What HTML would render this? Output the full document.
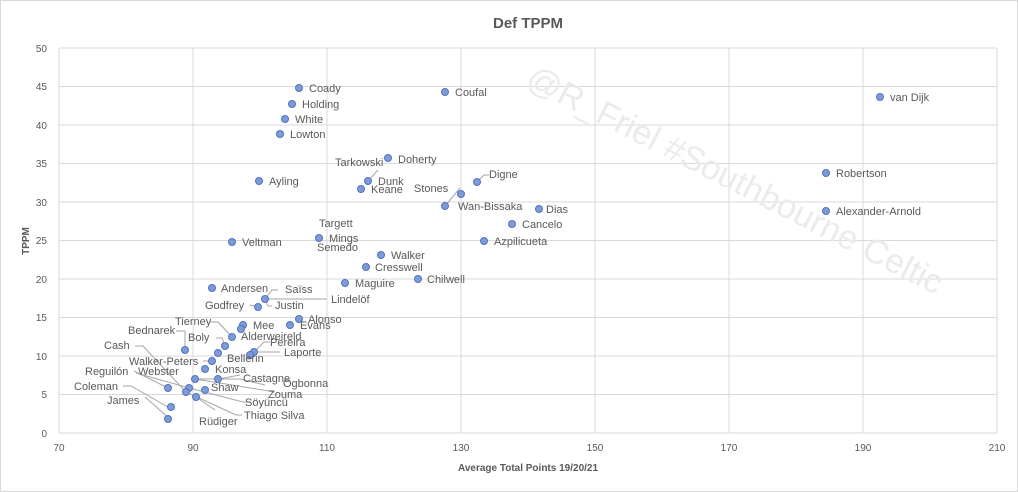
<!DOCTYPE html>
<html><head><meta charset="utf-8"><style>
html,body{margin:0;padding:0;background:#fff}
svg{display:block;font-family:"Liberation Sans",sans-serif}
.l{font-size:11px;fill:#595959}
.t{font-size:10px;fill:#595959}
.g{stroke:#d9d9d9;stroke-width:1}
.ld{stroke:#a6a6a6;stroke-width:1;fill:none}
circle{fill:#7f9bd6;stroke:#4f74c0;stroke-width:1}
</style></head><body>
<svg width="1018" height="492" viewBox="0 0 1018 492">
<rect x="0.5" y="0.5" width="1017" height="491" fill="#fff" stroke="#d9d9d9"/>
<text x="528" y="28" text-anchor="middle" style="font-size:15px;font-weight:bold;fill:#595959">Def TPPM</text>
<g class="g">
<line x1="59" y1="48" x2="997" y2="48"/><line x1="59" y1="86.5" x2="997" y2="86.5"/><line x1="59" y1="125" x2="997" y2="125"/><line x1="59" y1="163.5" x2="997" y2="163.5"/><line x1="59" y1="202" x2="997" y2="202"/><line x1="59" y1="240.5" x2="997" y2="240.5"/><line x1="59" y1="279" x2="997" y2="279"/><line x1="59" y1="317.5" x2="997" y2="317.5"/><line x1="59" y1="356" x2="997" y2="356"/><line x1="59" y1="394.5" x2="997" y2="394.5"/><line x1="59" y1="433" x2="997" y2="433"/>
<line x1="59" y1="48" x2="59" y2="433"/><line x1="193" y1="48" x2="193" y2="433"/><line x1="327" y1="48" x2="327" y2="433"/><line x1="461" y1="48" x2="461" y2="433"/><line x1="595" y1="48" x2="595" y2="433"/><line x1="729" y1="48" x2="729" y2="433"/><line x1="863" y1="48" x2="863" y2="433"/><line x1="997" y1="48" x2="997" y2="433"/>
</g>
<g class="t" text-anchor="end">
<text x="47" y="52">50</text><text x="47" y="90">45</text><text x="47" y="129">40</text><text x="47" y="167">35</text><text x="47" y="206">30</text><text x="47" y="244">25</text><text x="47" y="283">20</text><text x="47" y="321">15</text><text x="47" y="360">10</text><text x="47" y="398">5</text><text x="47" y="437">0</text>
</g>
<g class="t" text-anchor="middle">
<text x="59" y="451">70</text><text x="193" y="451">90</text><text x="327" y="451">110</text><text x="461" y="451">130</text><text x="595" y="451">150</text><text x="729" y="451">170</text><text x="863" y="451">190</text><text x="997" y="451">210</text>
</g>
<text x="528" y="471" text-anchor="middle" style="font-size:10px;font-weight:bold;fill:#595959">Average Total Points 19/20/21</text>
<text transform="translate(29,241) rotate(-90)" text-anchor="middle" style="font-size:10px;font-weight:bold;fill:#595959">TPPM</text>
<text transform="translate(730,190) rotate(27)" text-anchor="middle" style="font-size:34px;fill:#ebebeb">@R_Friel #Southbourne Celtic</text>
<g class="ld">
<path d="M378 170 L368 181"/><path d="M460 188 L445 206"/><path d="M477 182 L484 175 L489 175"/>
<path d="M265 299 L272 290 L278 290"/><path d="M265 299 L327 299"/><path d="M265 299 L268 306 L272 306"/><path d="M258 307 L250 305"/>
<path d="M210 322 L218 322 L232 337"/><path d="M216 338 L222 338 L225 346"/><path d="M176 331 L185 331 L185 350"/>
<path d="M135 346 L143 346 L186 392"/><path d="M254 352 L264 342 L270 342"/><path d="M254 352 L280 352"/>
<path d="M203 361 L212 361"/><path d="M134 371 L168 388"/><path d="M136 373 L189 388 L190 388"/>
<path d="M123 386 L131 386 L168 407"/><path d="M145 397 L170 419"/>
<path d="M195 379 L240 379 L265 385"/><path d="M218 379 L240 375"/><path d="M195 379 L275 392"/><path d="M189 388 L243 402 L251 402"/><path d="M186 392 L236 415 L242 415"/><path d="M196 397 L215 410"/>
</g>
<g>
<circle cx="299" cy="88" r="3.5"/><circle cx="292" cy="104" r="3.5"/><circle cx="285" cy="119" r="3.5"/><circle cx="280" cy="134" r="3.5"/>
<circle cx="445" cy="92" r="3.5"/><circle cx="880" cy="97" r="3.5"/><circle cx="388" cy="158" r="3.5"/><circle cx="368" cy="181" r="3.5"/><circle cx="361" cy="189" r="3.5"/>
<circle cx="259" cy="181" r="3.5"/><circle cx="477" cy="182" r="3.5"/><circle cx="461" cy="194" r="3.5"/><circle cx="445" cy="206" r="3.5"/><circle cx="539" cy="209" r="3.5"/>
<circle cx="826" cy="173" r="3.5"/><circle cx="826" cy="211" r="3.5"/><circle cx="512" cy="224" r="3.5"/><circle cx="484" cy="241" r="3.5"/><circle cx="319" cy="238" r="3.5"/>
<circle cx="232" cy="242" r="3.5"/><circle cx="381" cy="255" r="3.5"/><circle cx="366" cy="267" r="3.5"/><circle cx="345" cy="283" r="3.5"/><circle cx="418" cy="279" r="3.5"/>
<circle cx="212" cy="288" r="3.5"/><circle cx="265" cy="299" r="3.5"/><circle cx="258" cy="307" r="3.5"/><circle cx="299" cy="319" r="3.5"/><circle cx="290" cy="325" r="3.5"/>
<circle cx="243" cy="325" r="3.5"/><circle cx="241" cy="329" r="3.5"/><circle cx="232" cy="337" r="3.5"/><circle cx="225" cy="346" r="3.5"/><circle cx="185" cy="350" r="3.5"/>
<circle cx="254" cy="352" r="3.5"/><circle cx="250" cy="355" r="3.5"/><circle cx="218" cy="353" r="3.5"/><circle cx="212" cy="361" r="3.5"/><circle cx="205" cy="369" r="3.5"/>
<circle cx="195" cy="379" r="3.5"/><circle cx="218" cy="379" r="3.5"/><circle cx="205" cy="390" r="3.5"/><circle cx="168" cy="388" r="3.5"/><circle cx="189" cy="388" r="3.5"/>
<circle cx="186" cy="392" r="3.5"/><circle cx="196" cy="397" r="3.5"/><circle cx="171" cy="407" r="3.5"/><circle cx="168" cy="419" r="3.5"/>
</g>
<g class="l">
<text x="309" y="92">Coady</text><text x="302" y="108">Holding</text><text x="295" y="123">White</text><text x="290" y="138">Lowton</text>
<text x="455" y="96">Coufal</text><text x="890" y="101">van Dijk</text><text x="398" y="163">Doherty</text><text x="335" y="166">Tarkowski</text>
<text x="378" y="185">Dunk</text><text x="371" y="193">Keane</text><text x="269" y="185">Ayling</text><text x="489" y="178">Digne</text>
<text x="414" y="192">Stones</text><text x="458" y="210">Wan-Bissaka</text><text x="546" y="213">Dias</text><text x="836" y="177">Robertson</text>
<text x="836" y="215">Alexander-Arnold</text><text x="522" y="228">Cancelo</text><text x="494" y="245">Azpilicueta</text>
<text x="319" y="227">Targett</text><text x="329" y="242">Mings</text><text x="317" y="251">Semedo</text><text x="242" y="246">Veltman</text>
<text x="391" y="259">Walker</text><text x="375" y="271">Cresswell</text><text x="355" y="287">Maguire</text><text x="427" y="283">Chilwell</text>
<text x="221" y="292">Andersen</text><text x="285" y="293">Saïss</text><text x="205" y="309">Godfrey</text><text x="275" y="309">Justin</text>
<text x="331" y="303">Lindelöf</text><text x="308" y="323">Alonso</text><text x="300" y="329">Evans</text><text x="253" y="329">Mee</text>
<text x="175" y="325">Tierney</text><text x="241" y="340">Alderweireld</text><text x="188" y="341">Boly</text><text x="128" y="334">Bednarek</text>
<text x="270" y="346">Pereira</text><text x="284" y="356">Laporte</text><text x="227" y="362">Bellerin</text><text x="104" y="349">Cash</text>
<text x="129" y="365">Walker-Peters</text><text x="215" y="373">Konsa</text><text x="243" y="382">Castagne</text><text x="283" y="387">Ogbonna</text>
<text x="211" y="391">Shaw</text><text x="268" y="398">Zouma</text><text x="85" y="375">Reguilón</text><text x="138" y="375">Webster</text>
<text x="74" y="390">Coleman</text><text x="245" y="406">Söyüncü</text><text x="107" y="404">James</text><text x="244" y="419">Thiago Silva</text><text x="199" y="425">Rüdiger</text>
</g>
</svg>
</body></html>
